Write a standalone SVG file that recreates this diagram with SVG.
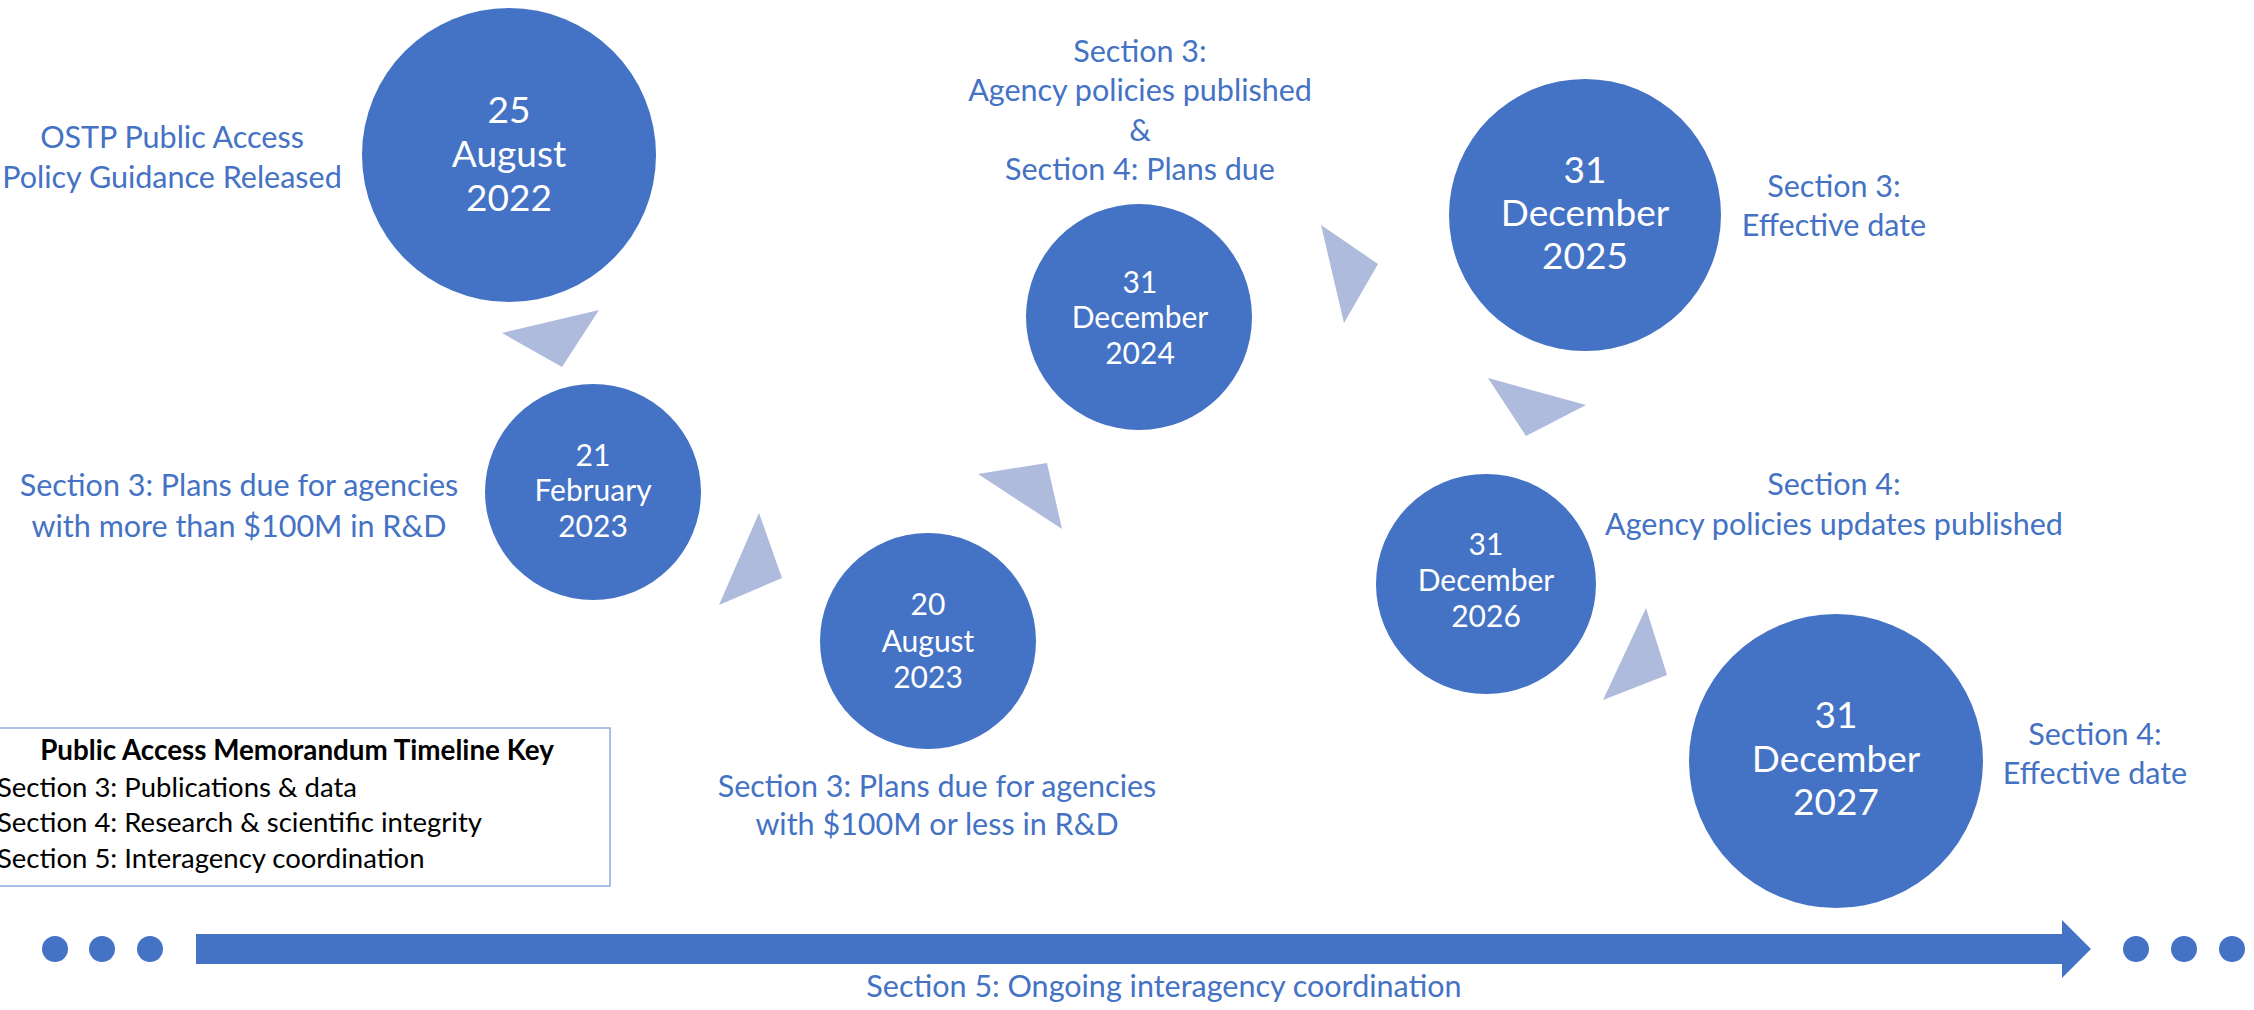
<svg xmlns="http://www.w3.org/2000/svg" width="2254" height="1010" viewBox="0 0 2254 1010">
<style>
.node{fill:#4472C4}
.nt{fill:#ffffff;font-family:Lato,"Liberation Sans",sans-serif;text-anchor:middle}
.big{font-size:37px}
.small{font-size:30px}
.lbl{fill:#4472C4;font-family:Lato,"Liberation Sans",sans-serif;font-size:30.5px;text-anchor:middle}
.tri{fill:#AFBBDD}
.key{font-family:Lato,"Liberation Sans",sans-serif;font-size:27.5px;fill:#000}
.keyt{font-family:Lato,"Liberation Sans",sans-serif;font-size:27.8px;font-weight:bold;fill:#000;text-anchor:middle}
.dot{fill:#4472C4}
</style>
<rect x="0" y="0" width="2254" height="1010" fill="#ffffff"/>
<g id="connectors">
<polygon class="tri" points="502,333 599,310 562,367"/>
<polygon class="tri" points="759,513 782,578 719,605"/>
<polygon class="tri" points="978,474 1047,463 1062,529"/>
<polygon class="tri" points="1321,225 1378,264 1344,323"/>
<polygon class="tri" points="1488,378 1586,405 1526,436"/>
<polygon class="tri" points="1646,608 1667,675 1603,700"/>
</g>
<g id="timeline">
<circle class="dot" cx="55" cy="949" r="13"/>
<circle class="dot" cx="102" cy="949" r="13"/>
<circle class="dot" cx="150" cy="949" r="13"/>
<polygon fill="#4472C4" points="196,934 2062,934 2062,920 2091,949 2062,978 2062,964 196,964"/>
<circle class="dot" cx="2136" cy="949" r="13"/>
<circle class="dot" cx="2184" cy="949" r="13"/>
<circle class="dot" cx="2232" cy="949" r="13"/>
<text class="lbl" x="1164" y="997">Section 5: Ongoing interagency coordination</text>
</g>
<g id="n2022">
<circle class="node" cx="509" cy="155" r="147"/>
<text class="nt big" x="509" y="123">25</text>
<text class="nt big" x="509" y="167">August</text>
<text class="nt big" x="509" y="211">2022</text>
<text class="lbl" x="172" y="148">OSTP Public Access</text>
<text class="lbl" x="172" y="188">Policy Guidance Released</text>
</g>
<g id="n2023feb">
<circle class="node" cx="593" cy="492" r="108"/>
<text class="nt small" x="593" y="466">21</text>
<text class="nt small" x="593" y="501">February</text>
<text class="nt small" x="593" y="537">2023</text>
<text class="lbl" x="239" y="496">Section 3: Plans due for agencies</text>
<text class="lbl" x="239" y="537">with more than $100M in R&amp;D</text>
</g>
<g id="n2023aug">
<circle class="node" cx="928" cy="641" r="108"/>
<text class="nt small" x="928" y="615">20</text>
<text class="nt small" x="928" y="652">August</text>
<text class="nt small" x="928" y="688">2023</text>
<text class="lbl" x="937" y="797">Section 3: Plans due for agencies</text>
<text class="lbl" x="937" y="835">with $100M or less in R&amp;D</text>
</g>
<g id="n2024">
<circle class="node" cx="1139" cy="317" r="113"/>
<text class="nt small" x="1140" y="293">31</text>
<text class="nt small" x="1140" y="328">December</text>
<text class="nt small" x="1140" y="364">2024</text>
<text class="lbl" x="1140" y="62">Section 3:</text>
<text class="lbl" x="1140" y="101">Agency policies published</text>
<text class="lbl" x="1140" y="141">&amp;</text>
<text class="lbl" x="1140" y="180">Section 4: Plans due</text>
</g>
<g id="n2025">
<circle class="node" cx="1585" cy="215" r="136"/>
<text class="nt big" x="1585" y="183">31</text>
<text class="nt big" x="1585" y="226">December</text>
<text class="nt big" x="1585" y="269">2025</text>
<text class="lbl" x="1834" y="197">Section 3:</text>
<text class="lbl" x="1834" y="236">Effective date</text>
</g>
<g id="n2026">
<circle class="node" cx="1486" cy="584" r="110"/>
<text class="nt small" x="1486" y="555">31</text>
<text class="nt small" x="1486" y="591">December</text>
<text class="nt small" x="1486" y="627">2026</text>
<text class="lbl" x="1834" y="495">Section 4:</text>
<text class="lbl" x="1834" y="535">Agency policies updates published</text>
</g>
<g id="n2027">
<circle class="node" cx="1836" cy="761" r="147"/>
<text class="nt big" x="1836" y="728">31</text>
<text class="nt big" x="1836" y="772">December</text>
<text class="nt big" x="1836" y="815">2027</text>
<text class="lbl" x="2095" y="745">Section 4:</text>
<text class="lbl" x="2095" y="784">Effective date</text>
</g>
<g id="legend">
<rect x="-2" y="728" width="612" height="158" fill="#ffffff" stroke="#8FAADC" stroke-width="1.5"/>
<text class="keyt" x="297" y="760">Public Access Memorandum Timeline Key</text>
<text class="key" x="-3" y="797">Section 3: Publications &amp; data</text>
<text class="key" x="-3" y="832">Section 4: Research &amp; scientific integrity</text>
<text class="key" x="-3" y="868">Section 5: Interagency coordination</text>
</g>
</svg>
